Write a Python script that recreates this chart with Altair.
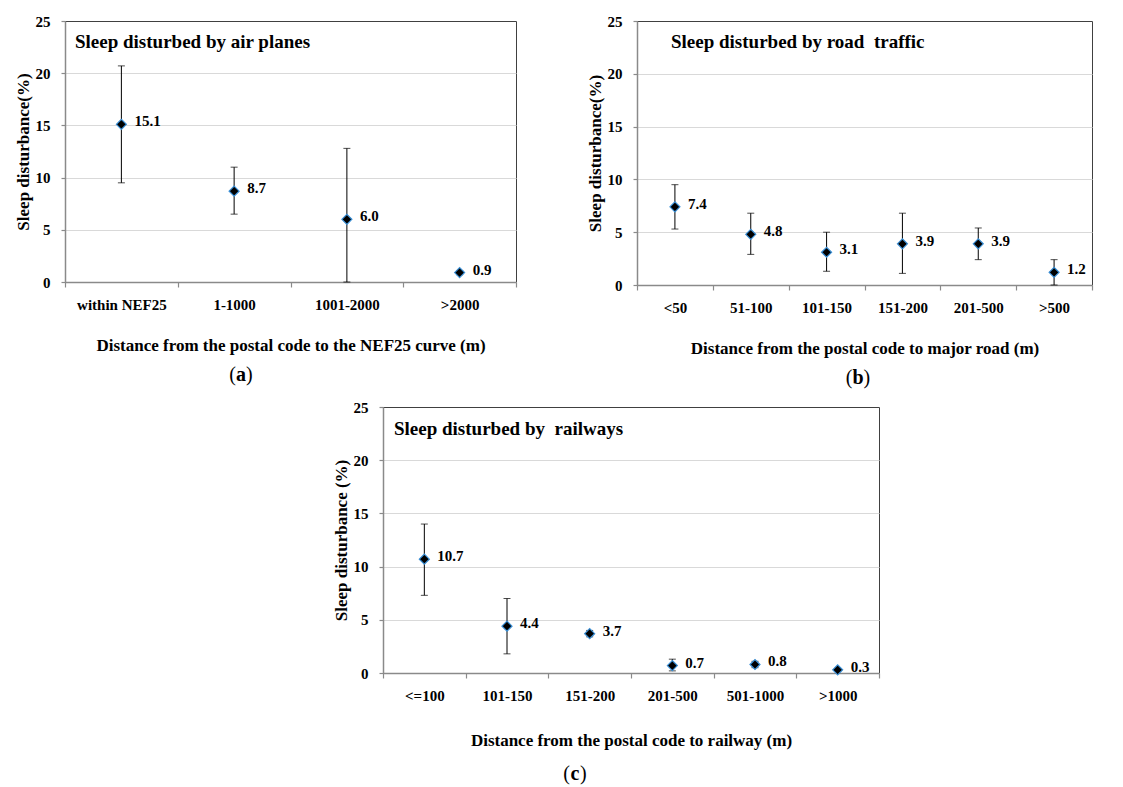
import altair as alt
import pandas as pd

FONT = "Liberation Serif"

# ---- data ----
a_cats = ["within NEF25", "1-1000", "1001-2000", ">2000"]
a_val = [15.1, 8.7, 6.0, 0.9]
a_lo = [9.5, 6.5, 0.0, 0.7]
a_hi = [20.7, 11.0, 12.8, 1.1]

b_cats = ["<50", "51-100", "101-150", "151-200", "201-500", ">500"]
b_val = [7.4, 4.8, 3.1, 3.9, 3.9, 1.2]
b_lo = [5.3, 2.9, 1.3, 1.1, 2.4, 0.0]
b_hi = [9.5, 6.8, 5.0, 6.8, 5.4, 2.4]

c_cats = ["<=100", "101-150", "151-200", "201-500", "501-1000", ">1000"]
c_val = [10.7, 4.4, 3.7, 0.7, 0.8, 0.3]
c_lo = [7.3, 1.8, 3.4, 0.2, 0.5, 0.2]
c_hi = [14.0, 7.0, 4.0, 1.3, 1.1, 0.4]

y_ticks = [0, 5, 10, 15, 20, 25]


def panel(cats, vals, lo, hi, title, ytitle, xtitle, letter, w, h,
          tx, ty, lx, xtp, ly, lw):
    df = pd.DataFrame({"cat": cats, "val": vals, "lo": lo, "hi": hi,
                       "lab": [f"{v:.1f}" for v in vals]})
    xaxis = alt.Axis(title=xtitle, tickBand="extent", labelAngle=0,
                     domainColor="#8a8a8a", domainWidth=1.5,
                     tickColor="#8a8a8a", tickSize=5, tickWidth=1.2,
                     labelPadding=10, titlePadding=xtp, grid=False)
    yaxis = alt.Axis(title=ytitle, values=y_ticks,
                     domainColor="#8a8a8a", domainWidth=1.5,
                     tickColor="#8a8a8a", tickSize=4, tickWidth=1.2,
                     labelPadding=11, titlePadding=3,
                     gridColor={"condition": {"test": "datum.value >= 25",
                                              "value": "transparent"},
                                "value": "#d9d9d9"})
    xscale = alt.Scale(type="band", paddingInner=0, paddingOuter=0)
    yscale = alt.Scale(domain=[0, 25], nice=False)
    X = alt.X("cat:N", sort=cats, scale=xscale, axis=xaxis, bandPosition=0.5)
    base = alt.Chart(df)
    rules = base.mark_rule(color="black", strokeWidth=1).encode(
        x=X, y=alt.Y("lo:Q", scale=yscale, axis=yaxis), y2="hi:Q")
    cap_lo = base.mark_tick(color="black", thickness=1, size=7,
                            orient="horizontal").encode(
        x=X, y=alt.Y("lo:Q", scale=yscale, axis=yaxis))
    cap_hi = base.mark_tick(color="black", thickness=1, size=7,
                            orient="horizontal").encode(
        x=X, y=alt.Y("hi:Q", scale=yscale, axis=yaxis))
    pts = base.mark_point(shape="diamond", filled=True, fill="black",
                          stroke="#3a8fd6", strokeWidth=1.2, size=100,
                          opacity=1).encode(
        x=X, y=alt.Y("val:Q", scale=yscale, axis=yaxis))
    labs = base.mark_text(align="left", baseline="middle", dx=13, dy=-3,
                          font=FONT, fontSize=15, fontWeight="bold",
                          color="black").encode(
        x=X, y=alt.Y("val:Q", scale=yscale, axis=yaxis), text="lab:N")
    tdf = pd.DataFrame({"t": [title]})
    ttl = alt.Chart(tdf).mark_text(align="left", baseline="middle",
                                   font=FONT, fontSize=19,
                                   fontWeight="bold", color="black").encode(
        text="t:N", x=alt.value(tx), y=alt.value(ty))
    ldf = pd.DataFrame({"o": ["("], "l": [letter], "c": [")"]})
    p_o = alt.Chart(ldf).mark_text(align="right", baseline="middle",
                                   font=FONT, fontSize=20,
                                   color="black").encode(
        text="o:N", x=alt.value(lx - lw / 2), y=alt.value(h + ly))
    p_l = alt.Chart(ldf).mark_text(align="center", baseline="middle",
                                   font=FONT, fontSize=20, fontWeight="bold",
                                   color="black").encode(
        text="l:N", x=alt.value(lx), y=alt.value(h + ly))
    p_c = alt.Chart(ldf).mark_text(align="left", baseline="middle",
                                   font=FONT, fontSize=20,
                                   color="black").encode(
        text="c:N", x=alt.value(lx + lw / 2), y=alt.value(h + ly))
    return alt.layer(rules, cap_lo, cap_hi, pts, labs, ttl, p_o, p_l, p_c
                     ).properties(width=w, height=h)


pa = panel(a_cats, a_val, a_lo, a_hi, "Sleep disturbed by air planes",
           "Sleep disturbance(%)",
           "Distance from the postal code to the NEF25 curve (m)", "a",
           451, 261, 10, 21, 176, 25, 93, 10)
pb = panel(b_cats, b_val, b_lo, b_hi, "Sleep disturbed by road \u00a0traffic",
           "Sleep disturbance(%)",
           "Distance from the postal code to major road (m)", "b",
           455, 264, 34, 21, 221, 25, 93, 11)
pc = panel(c_cats, c_val, c_lo, c_hi, "Sleep disturbed by \u00a0railways",
           "Sleep disturbance (%)",
           "Distance from the postal code to railway (m)", "c",
           496, 266, 11, 22, 192, 29, 101, 10)

spacer = alt.Chart(pd.DataFrame({"s": [0]})).mark_point(opacity=0).encode(
    x=alt.value(0), y=alt.value(0)).properties(
    width=265, height=10, view=alt.ViewBackground(stroke="transparent"))

top = alt.hconcat(pa, pb, spacing=67)
bottom = alt.hconcat(spacer, pc, spacing=0)

chart = alt.vconcat(top, bottom, spacing=10).properties(
    padding={"left": 5, "top": 5, "right": 5, "bottom": 0}
).configure_view(stroke="#404040", strokeWidth=1).configure_axis(
    labelFont=FONT, labelFontSize=15, labelFontWeight="bold",
    labelColor="black", titleFont=FONT, titleFontSize=17,
    titleFontWeight="bold", titleColor="black"
).configure_axisY(titleFontSize=17)

chart.save("out.html", embed_options={"renderer": "svg", "actions": False})
